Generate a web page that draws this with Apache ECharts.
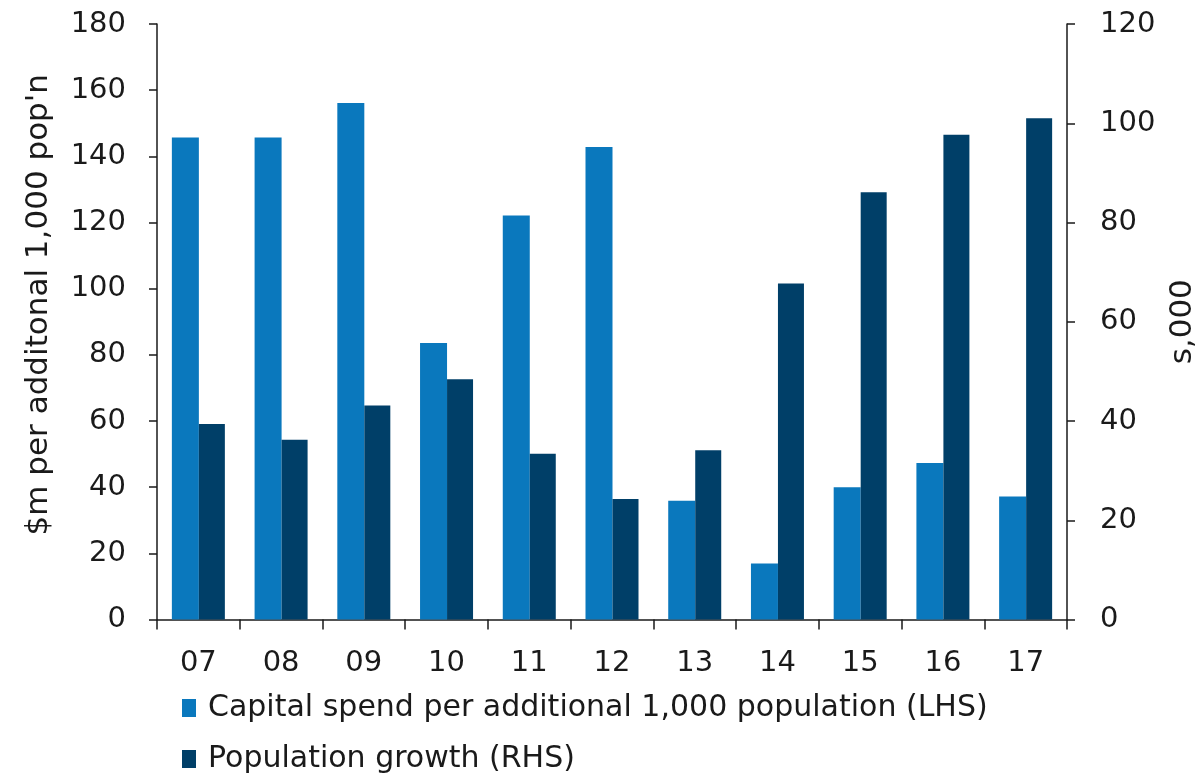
<!DOCTYPE html>
<html>
<head>
<meta charset="utf-8">
<script src="https://cdn.jsdelivr.net/npm/echarts@6/dist/echarts.min.js"></script>
<style>
html,body{margin:0;padding:0;background:#fff;}
#chart{width:1196px;height:775px;}
</style>
</head>
<body>
<div id="chart"></div>
<script>
const categories = ['07','08','09','10','11','12','13','14','15','16','17'];
const capitalSpend = [145.7, 145.7, 156.1, 83.6, 122.1, 142.8, 35.9, 16.9, 40.0, 47.3, 37.2];
const popGrowth = [39.4, 36.2, 43.1, 48.4, 33.4, 24.3, 34.1, 67.7, 86.1, 97.7, 101.0];
const leftTicks = {min: 0, max: 180, interval: 20};
const rightTicks = {min: 0, max: 120, interval: 20};
const seriesNames = ['Capital spend per additional 1,000 population (LHS)', 'Population growth (RHS)'];
const leftTitle = "$m per additonal 1,000 pop'n";
const rightTitle = 's,000';

const font = 'DejaVu Sans';
const txt = '#1a1a1a';
const tickFs = 29, nameFs = 31, legendFs = 30;
const chart = echarts.init(document.getElementById('chart'));
const axisLine = {show: true, lineStyle: {color: '#1a1a1a', width: 1.5}};
const tickStyle = {color: '#1a1a1a', width: 1.5};
const legendBase = {
  orient: 'horizontal', left: 177,
  itemWidth: 14, itemHeight: 18, icon: 'rect',
  textStyle: {fontFamily: font, fontSize: legendFs, color: txt, padding: [0, 0, 0, 7]}
};
chart.setOption({
  animation: false,
  textStyle: {fontFamily: font},
  grid: {left: 157, right: 129, top: 24, bottom: 155.5, containLabel: false, outerBoundsMode: 'none'},
  legend: [
    Object.assign({}, legendBase, {top: 688, data: [seriesNames[0]]}),
    Object.assign({}, legendBase, {top: 739, data: [seriesNames[1]]})
  ],
  xAxis: {
    type: 'category', data: categories,
    axisLine: axisLine,
    axisTick: {show: true, length: 10, lineStyle: tickStyle},
    axisLabel: {fontFamily: font, fontSize: tickFs, color: txt, margin: 29},
    splitLine: {show: false}
  },
  yAxis: [{
    type: 'value', position: 'left',
    min: leftTicks.min, max: leftTicks.max, interval: leftTicks.interval,
    axisLine: axisLine,
    axisTick: {show: true, length: 8, lineStyle: tickStyle},
    axisLabel: {fontFamily: font, fontSize: tickFs, color: txt, margin: 31},
    splitLine: {show: false},
    name: leftTitle, nameLocation: 'middle', nameRotate: 90, nameGap: 103,
    nameTextStyle: {fontFamily: font, fontSize: nameFs, color: txt, padding: [0, 0, 0, 34]}
  }, {
    type: 'value', position: 'right',
    min: rightTicks.min, max: rightTicks.max, interval: rightTicks.interval,
    axisLine: axisLine,
    axisTick: {show: true, length: 8, lineStyle: tickStyle},
    axisLabel: {fontFamily: font, fontSize: tickFs, color: txt, margin: 33},
    splitLine: {show: false},
    name: rightTitle, nameLocation: 'middle', nameRotate: 90, nameGap: 100,
    nameTextStyle: {fontFamily: font, fontSize: nameFs, color: txt}
  }],
  series: [{
    name: seriesNames[0], type: 'bar', yAxisIndex: 0,
    data: capitalSpend, barWidth: 27, barGap: '0%',
    itemStyle: {color: '#0a78bd'}
  }, {
    name: seriesNames[1], type: 'bar', yAxisIndex: 1,
    data: popGrowth, barWidth: 26, barGap: '0%',
    itemStyle: {color: '#003f68'}
  }]
});
</script>
</body>
</html>
